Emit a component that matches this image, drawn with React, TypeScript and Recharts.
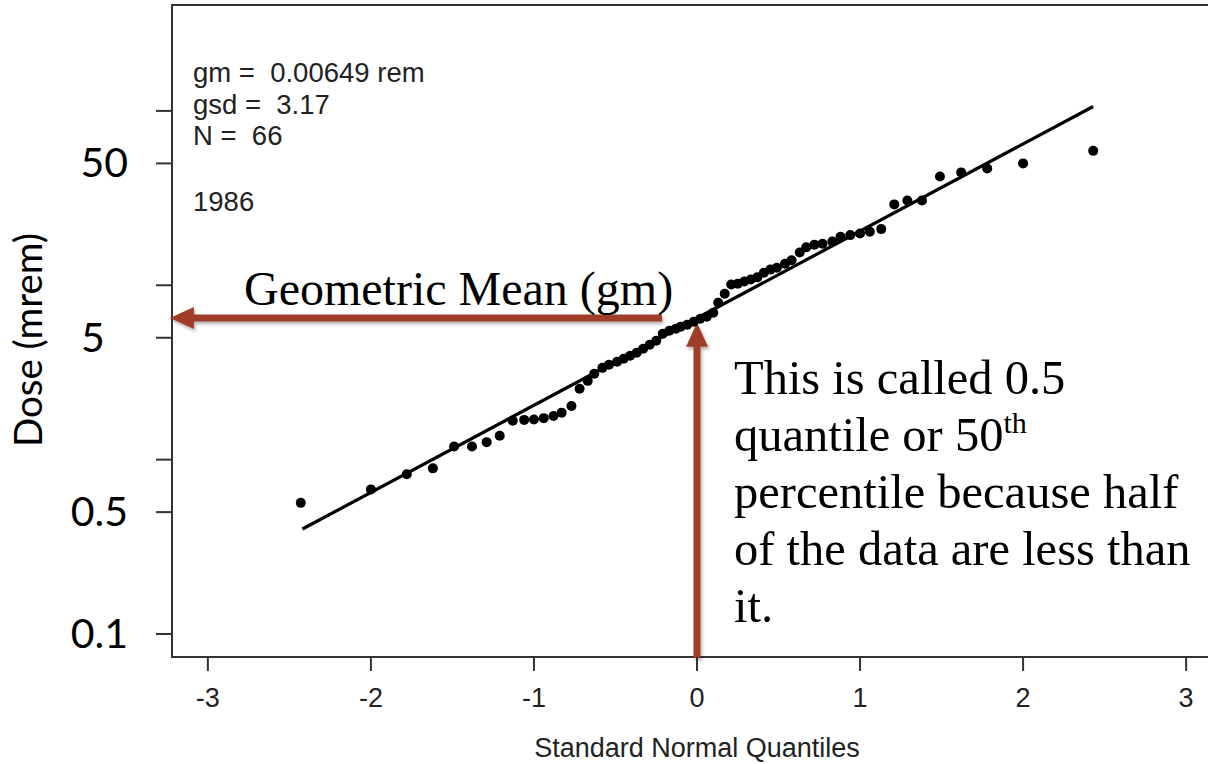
import React from "react";
import {
  ComposedChart,
  Scatter,
  Line,
  XAxis,
  YAxis,
  ReferenceArea,
  ReferenceLine,
} from "recharts";

// Normal scores (Hazen plotting positions) and the sorted doses in mrem
const quantiles = [
  -2.43, -2.0, -1.78, -1.62, -1.49, -1.38, -1.29, -1.21, -1.13, -1.06, -1.0,
  -0.94, -0.88, -0.83, -0.77, -0.72, -0.67, -0.63, -0.58, -0.54, -0.49, -0.45,
  -0.41, -0.37, -0.33, -0.29, -0.25, -0.21, -0.17, -0.13, -0.1, -0.06, -0.02,
  0.02, 0.06, 0.1, 0.13, 0.17, 0.21, 0.25, 0.29, 0.33, 0.37, 0.41, 0.45, 0.49,
  0.54, 0.58, 0.63, 0.67, 0.72, 0.77, 0.83, 0.88, 0.94, 1.0, 1.06, 1.13, 1.21,
  1.29, 1.38, 1.49, 1.62, 1.78, 2.0, 2.43,
];
const doses = [
  0.565, 0.675, 0.824, 0.891, 1.19, 1.19, 1.26, 1.37, 1.67, 1.69, 1.7, 1.73,
  1.78, 1.86, 2.03, 2.55, 2.83, 3.11, 3.36, 3.5, 3.64, 3.79, 3.94, 4.1, 4.32,
  4.56, 4.81, 5.27, 5.49, 5.63, 5.78, 5.94, 6.18, 6.43, 6.6, 6.96, 7.95, 8.95,
  10.1, 10.2, 10.5, 10.8, 11.1, 11.8, 12.3, 12.6, 13.3, 13.9, 15.4, 16.5, 17.1,
  17.3, 17.8, 19.0, 19.4, 19.8, 20.3, 21.0, 29.1, 30.6, 30.6, 42.1, 44.4, 46.8,
  50.0, 59.0,
];

// lognormal fit (gm 6.49 mrem, gsd 3.17), end points only
const fitQuantiles = [-2.42, 2.43];
const fitDoses = [0.4, 106];

const xTicks = [-3, -2, -1, 0, 1, 2, 3];
const doseTicks = [0.1, 0.5, 1, 5, 10, 50, 100];
const labelledDoseTicks = [0.1, 0.5, 5, 50];

const statLines = ["gm =  0.00649 rem", "gsd =  3.17", "N =  66"];
const yearLabel = "1986";

const gmDose = 6.49;
const medianArrowTop = 6.1;
const medianArrowBottom = 0.0728;
const gmArrowStart = -0.215;
const gmArrowEnd = -3.233;

const xDomain = [-3.22, 3.22];
const doseDomain = [0.0738, 405];

const points = quantiles.map((q, i) => ({ q, dose: doses[i] }));
const fitPoints = fitQuantiles.map((q, i) => ({ q, dose: fitDoses[i] }));

const ARROW = "#A03D2A";
const R_FONT = "'Liberation Sans', Arial, sans-serif";
const SLIDE_FONT = "Lato, 'Open Sans', sans-serif";
const SERIF = "'Liberation Serif', 'Times New Roman', serif";

function DoseTick(props: any) {
  const { x, y, payload } = props;
  if (!labelledDoseTicks.includes(payload.value)) return null;
  const label = String(payload.value);
  const short = label.length === 1;
  return (
    <text
      x={short ? x - 47 : x}
      y={y}
      dy={14}
      textAnchor={short ? "start" : "end"}
      fontFamily={SLIDE_FONT}
      fontSize={41}
      fill="#000"
    >
      {label}
    </text>
  );
}

function DoseTitle(props: any) {
  const { viewBox } = props;
  const cx = viewBox.x - 70;
  const cy = viewBox.y + viewBox.height / 2 + 9;
  return (
    <text
      x={cx}
      y={cy}
      transform={`rotate(-90 ${cx} ${cy})`}
      textAnchor="middle"
      fontFamily={SLIDE_FONT}
      fontSize={38.5}
      fill="#000"
    >
      Dose (mrem)
    </text>
  );
}

// block arrow from (x1,y1) to its tip at (x2,y2)
function arrowShape(shadowId: string) {
  return (props: any) => {
    const { x1, y1, x2, y2 } = props;
    const len = Math.hypot(x2 - x1, y2 - y1) || 1;
    const ux = (x2 - x1) / len;
    const uy = (y2 - y1) / len;
    const px = -uy;
    const py = ux;
    const head = 24;
    const half = 11;
    const shaft = 3.5;
    const bx = x2 - ux * head;
    const by = y2 - uy * head;
    const pts = [
      [x1 + px * shaft, y1 + py * shaft],
      [bx + px * shaft, by + py * shaft],
      [bx + px * half, by + py * half],
      [x2, y2],
      [bx - px * half, by - py * half],
      [bx - px * shaft, by - py * shaft],
      [x1 - px * shaft, y1 - py * shaft],
    ];
    return (
      <g>
        <defs>
          <filter id={shadowId} x="-20%" y="-20%" width="140%" height="140%">
            <feDropShadow dx="1.5" dy="2.5" stdDeviation="1.5" floodColor="#000" floodOpacity="0.3" />
          </filter>
        </defs>
        <polygon
          points={pts.map((p) => p.join(",")).join(" ")}
          fill={ARROW}
          filter={`url(#${shadowId})`}
        />
      </g>
    );
  };
}

export default function App() {
  return (
    <div
      style={{
        position: "absolute",
        left: 0,
        top: 0,
        width: 1208,
        height: 764,
        overflow: "hidden",
        background: "#fff",
      }}
    >
      <ComposedChart
        width={1240}
        height={764}
        margin={{ top: 5, right: 18, left: 112, bottom: 0 }}
      >
        <XAxis
          type="number"
          dataKey="q"
          domain={xDomain}
          ticks={xTicks}
          allowDataOverflow
          height={107}
          axisLine={false}
          tickSize={14}
          tickMargin={17}
          tickLine={{ stroke: "#333", strokeWidth: 2 }}
          tick={{ fill: "#222", fontSize: 27, fontFamily: R_FONT }}
          interval={0}
          label={{
            value: "Standard Normal Quantiles",
            position: "insideBottom",
            offset: 7,
            fill: "#222",
            fontSize: 27,
            fontFamily: R_FONT,
          }}
        />
        <YAxis
          type="number"
          dataKey="dose"
          scale="log"
          domain={doseDomain}
          ticks={doseTicks}
          allowDataOverflow
          width={60}
          axisLine={false}
          tickSize={16}
          tickMargin={28}
          tickLine={{ stroke: "#333", strokeWidth: 2 }}
          tick={DoseTick}
          interval={0}
          label={{ content: DoseTitle }}
        />
        <ReferenceArea
          x1={xDomain[0]}
          x2={xDomain[1]}
          y1={doseDomain[0]}
          y2={doseDomain[1]}
          fill="none"
          stroke="#333"
          strokeWidth={2}
          ifOverflow="visible"
        />
        <Line
          data={fitPoints}
          dataKey="dose"
          type="linear"
          stroke="#000"
          strokeWidth={3.2}
          dot={false}
          activeDot={false}
          isAnimationActive={false}
        />
        <Scatter
          data={points}
          dataKey="dose"
          fill="#000"
          isAnimationActive={false}
          shape={(p: any) => <circle cx={p.cx} cy={p.cy} r={5} fill="#000" />}
        />
        <ReferenceLine
          segment={[
            { x: gmArrowStart, y: gmDose },
            { x: gmArrowEnd, y: gmDose },
          ]}
          ifOverflow="visible"
          shape={arrowShape("gmShadow")}
        />
        <ReferenceLine
          segment={[
            { x: 0, y: medianArrowBottom },
            { x: 0, y: medianArrowTop },
          ]}
          ifOverflow="visible"
          shape={arrowShape("medianShadow")}
        />
      </ComposedChart>

      <div
        style={{
          position: "absolute",
          left: 193,
          top: 57,
          font: `27.5px ${R_FONT}`,
          lineHeight: "31.5px",
          color: "#222",
          whiteSpace: "pre",
        }}
      >
        {statLines.map((line) => (
          <div key={line}>{line}</div>
        ))}
      </div>
      <div
        style={{
          position: "absolute",
          left: 193,
          top: 186,
          font: `27.5px ${R_FONT}`,
          lineHeight: "31.5px",
          color: "#222",
        }}
      >
        {yearLabel}
      </div>

      <div
        style={{
          position: "absolute",
          left: 244,
          top: 260,
          font: `48px ${SERIF}`,
          lineHeight: "57px",
          color: "#000",
          whiteSpace: "nowrap",
        }}
      >
        Geometric Mean (gm)
      </div>
      <div
        style={{
          position: "absolute",
          left: 734,
          top: 349,
          font: `48.5px ${SERIF}`,
          lineHeight: "57px",
          color: "#000",
          whiteSpace: "nowrap",
        }}
      >
        This is called 0.5
        <br />
        quantile or 50
        <sup style={{ fontSize: "0.62em", verticalAlign: "0.6em", lineHeight: 0 }}>th</sup>
        <br />
        percentile because half
        <br />
        of the data are less than
        <br />
        it.
      </div>
    </div>
  );
}
